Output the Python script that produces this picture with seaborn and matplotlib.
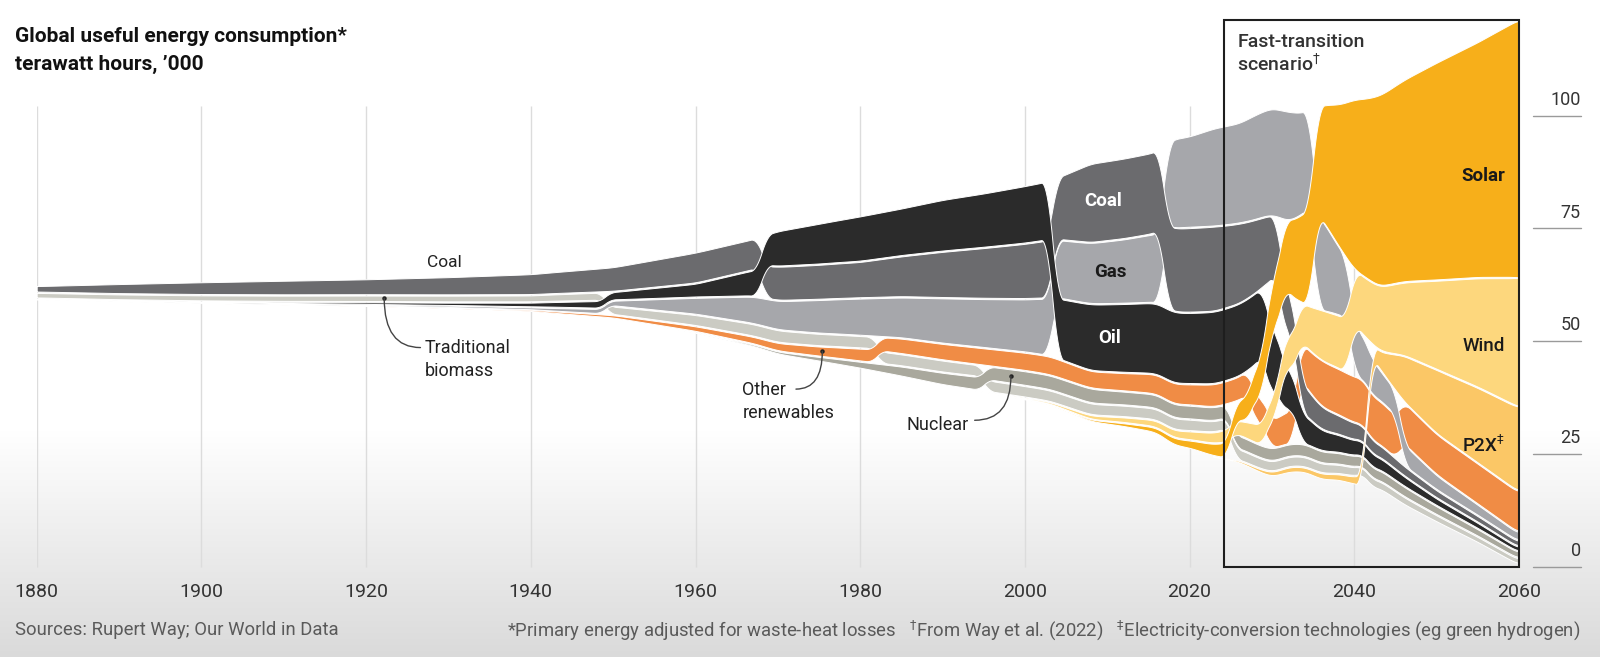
import numpy as np
import matplotlib
matplotlib.use("Agg")
import matplotlib.pyplot as plt
import seaborn as sns
from matplotlib.patches import Rectangle

# ---------------- data (thousand TWh) ----------------
years = [1880, 1890, 1900, 1910, 1920, 1930, 1940, 1950, 1960, 1967, 1970, 1975,
         1980, 1985, 1990, 1995, 2000, 2003, 2008, 2012, 2016, 2018, 2020, 2023,
         2026, 2028, 2030, 2032, 2034, 2036, 2038, 2040, 2043, 2046, 2050, 2055, 2060]

coal = [1.2, 2.0, 2.6, 3.0, 3.3, 3.8, 4.4, 5.2, 6.6, 6.6, 7.3, 7.5,
        7.8, 8.8, 10.0, 11.0, 12.0, 12.6, 17.3, 17.6, 17.8, 18.3, 18.5, 18.6,
        17.5, 16.0, 14.0, 9.0, 6.0, 4.8, 4.0, 3.5, 2.5, 2.0, 1.5, 1.2, 1.0]
oil = [0.02, 0.05, 0.1, 0.2, 0.35, 0.5, 0.8, 1.6, 2.8, 5.5, 7.6, 8.8,
       9.8, 10.3, 11.2, 11.8, 12.5, 12.8, 14.5, 15.0, 15.5, 15.5, 15.5, 15.8,
       15.8, 15.5, 14.5, 8.5, 6.0, 4.4, 3.7, 3.2, 2.5, 2.0, 1.4, 1.1, 0.8]
gas = [0.05, 0.05, 0.1, 0.15, 0.2, 0.3, 0.4, 1.0, 3.5, 5.8, 6.2, 7.2,
       8.0, 8.8, 9.8, 10.6, 11.5, 12.5, 13.3, 14.0, 15.0, 19.5, 20.0, 21.5,
       22.0, 23.0, 23.5, 24.0, 22.0, 20.0, 15.0, 11.0, 6.5, 4.5, 3.0, 2.2, 1.6]
trad_biomass = [1.0, 1.05, 1.1, 1.15, 1.2, 1.25, 1.3, 1.6, 2.2, 2.5, 2.5, 2.5,
                2.5, 2.4, 2.4, 2.3, 2.3, 2.3, 2.3, 2.3, 2.3, 2.3, 2.3, 2.2,
                2.2, 2.1, 2.0, 2.0, 2.0, 1.9, 1.8, 1.7, 1.6, 1.5, 1.3, 1.1, 1.0]
other_renewables = [0.03, 0.04, 0.05, 0.07, 0.1, 0.15, 0.25, 0.5, 1.0, 1.4, 1.6, 2.0,
                    2.6, 3.2, 3.4, 3.6, 3.8, 3.9, 3.6, 3.8, 4.2, 4.3, 4.4, 4.8,
                    5.0, 5.5, 6.0, 7.0, 8.5, 10.0, 10.0, 10.0, 9.5, 9.0, 8.8, 8.8, 8.8]
nuclear = [0, 0, 0, 0, 0, 0, 0, 0, 0.1, 0.3, 0.4, 0.8,
           1.3, 2.0, 2.5, 2.8, 3.0, 3.0, 3.0, 2.8, 2.8, 2.8, 2.8, 2.8,
           2.7, 2.6, 2.6, 2.5, 2.5, 2.4, 2.3, 2.2, 2.1, 2.0, 1.7, 1.4, 1.2]
wind = [0, 0, 0, 0, 0, 0, 0, 0, 0, 0, 0, 0,
        0, 0, 0, 0.05, 0.2, 0.3, 0.7, 1.0, 1.3, 1.5, 1.7, 2.2,
        3.0, 4.0, 5.0, 7.0, 9.0, 11.0, 11.5, 12.0, 14.0, 16.0, 19.5, 24.0, 28.5]
solar = [0, 0, 0, 0, 0, 0, 0, 0, 0, 0, 0, 0,
         0, 0, 0, 0, 0.05, 0.1, 0.3, 0.6, 1.0, 1.3, 1.6, 2.5,
         4.0, 7.0, 11.0, 16.0, 20.0, 25.0, 31.0, 37.5, 42.0, 44.5, 48.0, 52.0, 57.0]
p2x = [0, 0, 0, 0, 0, 0, 0, 0, 0, 0, 0, 0,
       0, 0, 0, 0, 0, 0, 0, 0, 0, 0, 0, 0,
       0.3, 0.5, 0.8, 1.0, 1.0, 1.1, 1.2, 1.5, 3.5, 10.0, 14.0, 16.5, 18.5]

# stacking order (top -> bottom) for each period, as drawn in the chart
order_start = [1880, 1949, 1968, 1982, 1995, 2003.3, 2016.8, 2025, 2027.5,
               2029.3, 2031, 2033, 2035, 2039.5, 2041.5, 2045.5]
order_list = [
    ["coal", "trad", "oil", "gas", "renew", "nuclear", "wind", "solar", "p2x"],
    ["coal", "oil", "gas", "trad", "renew", "nuclear", "wind", "solar", "p2x"],
    ["oil", "coal", "gas", "trad", "renew", "nuclear", "wind", "solar", "p2x"],
    ["oil", "coal", "gas", "renew", "trad", "nuclear", "wind", "solar", "p2x"],
    ["oil", "coal", "gas", "renew", "nuclear", "trad", "wind", "solar", "p2x"],
    ["coal", "gas", "oil", "renew", "nuclear", "trad", "wind", "solar", "p2x"],
    ["gas", "coal", "oil", "renew", "nuclear", "trad", "wind", "solar", "p2x"],
    ["gas", "coal", "oil", "renew", "solar", "wind", "nuclear", "trad", "p2x"],
    ["gas", "coal", "oil", "solar", "renew", "wind", "nuclear", "trad", "p2x"],
    ["gas", "coal", "solar", "oil", "wind", "renew", "nuclear", "trad", "p2x"],
    ["gas", "solar", "coal", "wind", "oil", "renew", "nuclear", "trad", "p2x"],
    ["gas", "solar", "wind", "renew", "coal", "oil", "nuclear", "trad", "p2x"],
    ["solar", "gas", "wind", "renew", "coal", "oil", "nuclear", "trad", "p2x"],
    ["solar", "wind", "gas", "renew", "coal", "oil", "nuclear", "trad", "p2x"],
    ["solar", "wind", "p2x", "gas", "renew", "coal", "oil", "nuclear", "trad"],
    ["solar", "wind", "p2x", "renew", "gas", "coal", "oil", "nuclear", "trad"],
]

x_ticks = [1880, 1900, 1920, 1940, 1960, 1980, 2000, 2020, 2040, 2060]
y_ticks = [0, 25, 50, 75, 100]

values = {"coal": coal, "oil": oil, "gas": gas, "trad": trad_biomass,
          "renew": other_renewables, "nuclear": nuclear, "wind": wind,
          "solar": solar, "p2x": p2x}
colors = {"coal": "#6b6b6e", "oil": "#2b2b2b", "gas": "#a6a7ab", "trad": "#cbcbc3",
          "renew": "#f08c45", "nuclear": "#a9a89d", "wind": "#fdd77d",
          "solar": "#f7af1a", "p2x": "#fbc766"}
zorders = {"trad": 2, "nuclear": 3, "renew": 4, "gas": 5, "coal": 6, "oil": 7,
           "p2x": 8, "wind": 9, "solar": 10}

# ---------------- ranked-stream layout ----------------
STEP = 0.05
t = np.arange(1880, 2060 + STEP / 2, STEP)


def smooth(y, w):
    n = int(round(w / STEP))
    n += (n + 1) % 2
    k = np.ones(n) / n
    yp = np.pad(y, n, mode="edge")
    return np.convolve(yp, k, mode="same")[n:-n]


V = {s: smooth(np.interp(t, years, values[s]), 1.5) for s in values}
CENTER, GAP = 60.75, 0.3
era = np.searchsorted(np.array(order_start), t, side="right") - 1
mid = {s: np.zeros_like(t) for s in values}
for k, order in enumerate(order_list):
    m = era == k
    gaps = {s: GAP * np.clip(V[s][m] / 1.0, 0, 1) for s in order}
    total = sum(V[s][m] + gaps[s] for s in order)
    top = CENTER + total / 2
    for s in order:
        mid[s][m] = top - V[s][m] / 2
        top = top - V[s][m] - gaps[s]

for s in mid:
    mid[s] = smooth(smooth(mid[s], 1.3), 1.3)


def ypos(s, yr):
    return float(np.interp(yr, t, mid[s]))


# ---------------- figure ----------------
sns.set_theme(style="white")
plt.rcParams["font.family"] = ["Roboto", "DejaVu Sans"]
plt.rcParams["mathtext.fontset"] = "dejavusans"

W, H = 1600, 657
fig = plt.figure(figsize=(W / 100, H / 100), dpi=100)

# background gradient (white -> light grey at the bottom)
bg = fig.add_axes([0, 0, 1, 1], zorder=-5)
rows = np.arange(H)
shade = np.where(rows < 430, 255, 255 - 37 * (rows - 430) / (H - 430)) / 255.0
img = np.repeat(shade[:, None], 4, axis=1)
bg.imshow(np.dstack([img, img, img]), aspect="auto", extent=[0, 1, 0, 1])
bg.axis("off")

PX = 4.515
y0_px = H - 567
ylo, yhi = -2, 122
x_left, x_right = 36.7, 1519
ax = fig.add_axes([x_left / W, (y0_px + ylo * PX) / H,
                   (x_right - x_left) / W, (yhi - ylo) * PX / H])
ax.set_facecolor("none")
ax.set_xlim(1880, 2060)
ax.set_ylim(ylo, yhi)
sns.despine(ax=ax, left=True, bottom=True)

ax.vlines(x_ticks, 0, 102, color="#dcdcdc", lw=1, zorder=0)

for s in values:
    v = V[s]
    ax.fill_between(t, mid[s] - v / 2, mid[s] + v / 2, where=v > 0.01,
                    facecolor=colors[s], edgecolor="white", linewidth=0.7,
                    zorder=zorders[s])

# fast-transition box
ax.add_patch(Rectangle((2024.2, 0), 2060 - 2024.2, 121.2, fill=False,
                       edgecolor="#1e1e1e", lw=1.5, zorder=20, clip_on=False))
ax.text(2025.8, 116.2, "Fast-transition", fontsize=14, fontweight="medium",
        color="#333333", va="center", ha="left", zorder=21)
ax.text(2025.8, 111.4, r"scenario$^{\dagger}$", fontsize=14, fontweight="medium",
        color="#333333", va="center", ha="left", zorder=21)

# right-hand value axis
for yv in y_ticks:
    ax.plot([2061.7, 2067.5], [yv, yv], color="#9a9a9a", lw=1, clip_on=False)
    ax.text(2067.5, yv + 3.5, str(yv), fontsize=13, color="#333333",
            ha="right", va="center", clip_on=False)

ax.set_yticks([])
ax.set_xticks(x_ticks)
ax.set_xticklabels([str(x) for x in x_ticks], fontsize=14, color="#333333")
ax.tick_params(axis="x", length=0, pad=5)

# labels inside the stream
ax.text(1929.5, 67.5, "Coal", fontsize=12.5, color="#222222", ha="center", va="center", zorder=30)
ax.text(2009.5, ypos("coal", 2009.5), "Coal", fontsize=13.5, fontweight="bold",
        color="white", ha="center", va="center", zorder=30)
ax.text(2010.4, ypos("gas", 2010.4), "Gas", fontsize=13.5, fontweight="bold",
        color="#1a1a1a", ha="center", va="center", zorder=30)
ax.text(2010.3, ypos("oil", 2010.3), "Oil", fontsize=13.5, fontweight="bold",
        color="white", ha="center", va="center", zorder=30)
ax.text(2058.3, 86.6, "Solar", fontsize=13.5, fontweight="bold",
        color="#1a1a1a", ha="right", va="center", zorder=30)
ax.text(2058.3, 49.0, "Wind", fontsize=13.5, fontweight="medium",
        color="#1a1a1a", ha="right", va="center", zorder=30)
ax.text(2058.3, 27.0, r"P2X$^{\ddagger}$", fontsize=13.5, fontweight="medium",
        color="#1a1a1a", ha="right", va="center", zorder=30)


# pointer annotations
def pointer(series, yr, text_xy):
    dot = (yr, ypos(series, yr))
    ax.plot(*dot, "o", ms=2.2, color="#222222", zorder=31)
    ax.annotate("", xy=dot, xytext=text_xy, zorder=31,
                arrowprops=dict(arrowstyle="-", color="#444444", lw=1,
                                connectionstyle="angle3,angleA=0,angleB=90",
                                shrinkA=0, shrinkB=0))


ax.text(1927.1, 48.6, "Traditional", fontsize=13, color="#222222", va="center", ha="left")
ax.text(1927.1, 43.4, "biomass", fontsize=13, color="#222222", va="center", ha="left")
pointer("trad", 1922.2, (1926.6, 48.6))

ax.text(1965.7, 39.2, "Other", fontsize=13, color="#222222", va="center", ha="left")
ax.text(1965.7, 34.1, "renewables", fontsize=13, color="#222222", va="center", ha="left")
pointer("renew", 1975.4, (1972.2, 39.4))

ax.text(1993.2, 31.5, "Nuclear", fontsize=13, color="#222222", va="center", ha="right")
pointer("nuclear", 1998.3, (1993.9, 32.5))

# titles and footnotes
fig.text(15 / W, 1 - 36 / H, "Global useful energy consumption*", fontsize=15,
         fontweight="bold", color="#111111", va="center", ha="left")
fig.text(15 / W, 1 - 64 / H, "terawatt hours, \u2019000", fontsize=15,
         fontweight="bold", color="#111111", va="center", ha="left")
fig.text(15 / W, 1 - 630 / H, "Sources: Rupert Way; Our World in Data", fontsize=13.3,
         color="#5a5a5a", va="center", ha="left")
fig.text(1580 / W, 1 - 630 / H,
         r"*Primary energy adjusted for waste-heat losses   $^{\dagger}$From Way et al. (2022)   "
         r"$^{\ddagger}$Electricity-conversion technologies (eg green hydrogen)",
         fontsize=13.3, color="#5a5a5a", va="center", ha="right")

fig.savefig("out.png", dpi=100)
